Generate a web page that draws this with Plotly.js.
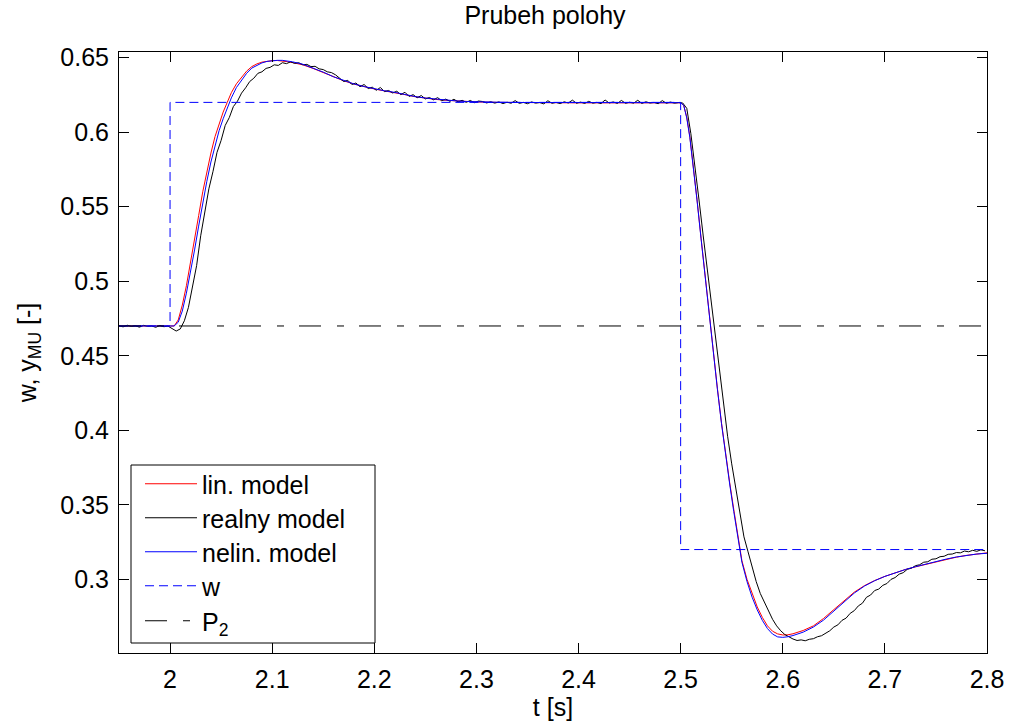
<!DOCTYPE html>
<html>
<head>
<meta charset="utf-8">
<script src="https://cdn.plot.ly/plotly-3.0.1.min.js"></script>
<style>html,body{margin:0;padding:0;background:#fff;}#chart{width:1010px;height:724px;}</style>
</head>
<body>
<div id="chart"></div>
<script>
// ---- data ----
const tLin = [1.950,2.004,2.008,2.012,2.016,2.020,2.024,2.028,2.032,2.036,2.040,2.044,2.048,2.052,2.056,2.060,2.065,2.070,2.075,2.080,2.085,2.090,2.095,2.100,2.105,2.110,2.115,2.120,2.130,2.140,2.150,2.160,2.170,2.180,2.190,2.200,2.210,2.220,2.230,2.240,2.250,2.260,2.270,2.280,2.290,2.300,2.320,2.350,2.400,2.450,2.500,2.503,2.506,2.509,2.512,2.516,2.520,2.524,2.528,2.532,2.536,2.540,2.544,2.548,2.552,2.556,2.560,2.565,2.570,2.575,2.580,2.585,2.590,2.595,2.600,2.605,2.610,2.620,2.630,2.640,2.650,2.660,2.670,2.680,2.690,2.700,2.710,2.720,2.730,2.740,2.750,2.760,2.770,2.780,2.790,2.800];
const yLin = [0.4700,0.4700,0.4740,0.4840,0.4970,0.5120,0.5280,0.5440,0.5600,0.5740,0.5860,0.5970,0.6055,0.6135,0.6200,0.6265,0.6325,0.6370,0.6410,0.6440,0.6458,0.6470,0.6477,0.6480,0.6481,0.6478,0.6473,0.6467,0.6452,0.6428,0.6400,0.6370,0.6345,0.6323,0.6305,0.6290,0.6277,0.6267,0.6252,0.6238,0.6228,0.6220,0.6214,0.6209,0.6205,0.6203,0.6200,0.6198,0.6197,0.6197,0.6197,0.6180,0.6100,0.5970,0.5800,0.5550,0.5290,0.5030,0.4770,0.4520,0.4280,0.4050,0.3840,0.3650,0.3470,0.3300,0.3125,0.3000,0.2900,0.2815,0.2745,0.2688,0.2652,0.2634,0.2627,0.2628,0.2635,0.2657,0.2688,0.2738,0.2797,0.2858,0.2914,0.2958,0.2992,0.3020,0.3045,0.3066,0.3084,0.3101,0.3118,0.3134,0.3149,0.3161,0.3171,0.3178];

const tNelin = [1.950,2.004,2.008,2.012,2.016,2.020,2.024,2.028,2.032,2.036,2.040,2.044,2.048,2.052,2.056,2.060,2.065,2.070,2.075,2.080,2.085,2.090,2.095,2.100,2.105,2.110,2.115,2.120,2.130,2.140,2.150,2.160,2.170,2.180,2.190,2.200,2.210,2.220,2.230,2.240,2.250,2.260,2.270,2.280,2.290,2.300,2.320,2.350,2.400,2.450,2.500,2.503,2.506,2.509,2.512,2.516,2.520,2.524,2.528,2.532,2.536,2.540,2.544,2.548,2.552,2.556,2.560,2.565,2.570,2.575,2.580,2.585,2.590,2.595,2.600,2.605,2.610,2.620,2.630,2.640,2.650,2.660,2.670,2.680,2.690,2.700,2.710,2.720,2.730,2.740,2.750,2.760,2.770,2.780,2.790,2.800];
const yNelin = [0.4700,0.4700,0.4725,0.4800,0.4920,0.5060,0.5210,0.5370,0.5530,0.5670,0.5800,0.5910,0.6010,0.6090,0.6165,0.6230,0.6300,0.6350,0.6395,0.6430,0.6450,0.6465,0.6475,0.6480,0.6482,0.6482,0.6478,0.6472,0.6456,0.6432,0.6403,0.6372,0.6346,0.6324,0.6306,0.6291,0.6278,0.6267,0.6252,0.6239,0.6229,0.6221,0.6215,0.6210,0.6206,0.6204,0.6201,0.6199,0.6198,0.6198,0.6198,0.6180,0.6095,0.5965,0.5795,0.5545,0.5285,0.5025,0.4765,0.4515,0.4275,0.4045,0.3835,0.3640,0.3455,0.3285,0.3115,0.2985,0.2880,0.2795,0.2725,0.2670,0.2633,0.2614,0.2611,0.2615,0.2623,0.2646,0.2680,0.2727,0.2786,0.2850,0.2908,0.2955,0.2991,0.3020,0.3045,0.3066,0.3085,0.3103,0.3120,0.3136,0.3150,0.3162,0.3170,0.3175];

// measured ("realny") response: [t, value]
const realny = [
[1.950,0.4702],[1.954,0.4694],[1.958,0.4705],[1.962,0.4697],[1.966,0.4701],[1.970,0.4692],[1.974,0.4704],[1.978,0.4698],[1.982,0.4700],[1.986,0.4691],[1.990,0.4703],[1.994,0.4695],[1.998,0.4699],
[2.002,0.4685],[2.006,0.4666],[2.010,0.4680],[2.014,0.4735],[2.018,0.4825],[2.022,0.4968],[2.026,0.5105],[2.030,0.5305],[2.034,0.5450],[2.038,0.5620],[2.042,0.5735],[2.046,0.5865],[2.050,0.5945],[2.054,0.6045],[2.058,0.6098],[2.062,0.6172],[2.066,0.6208],[2.070,0.6262],[2.074,0.6298],[2.078,0.6340],[2.082,0.6362],[2.086,0.6395],[2.090,0.6405],[2.094,0.6428],[2.098,0.6435],[2.102,0.6452],[2.106,0.6448],[2.110,0.6466],[2.114,0.6460],[2.118,0.6472],[2.122,0.6462],[2.126,0.6466],[2.130,0.6452],[2.134,0.6455],[2.138,0.6440],[2.142,0.6442],[2.146,0.6425],[2.150,0.6420],[2.154,0.6405],[2.158,0.6400],[2.162,0.6385],
[2.166,0.6362],[2.170,0.6340],[2.174,0.6348],[2.178,0.6320],[2.182,0.6330],[2.186,0.6305],[2.190,0.6320],[2.194,0.6293],[2.198,0.6302],[2.202,0.6281],[2.206,0.6300],[2.210,0.6272],[2.214,0.6280],[2.218,0.6263],[2.222,0.6275],[2.226,0.6252],[2.230,0.6268],[2.234,0.6240],[2.238,0.6252],[2.242,0.6231],[2.246,0.6246],[2.250,0.6223],[2.254,0.6233],[2.258,0.6217],[2.262,0.6232],[2.266,0.6211],[2.270,0.6222],[2.274,0.6207],[2.278,0.6221],[2.282,0.6203],[2.286,0.6214],[2.290,0.6200],[2.294,0.6213],[2.298,0.6198],[2.302,0.6209],
[2.306,0.6206],[2.310,0.6196],[2.314,0.6204],[2.318,0.6195],[2.322,0.6203],[2.326,0.6192],[2.330,0.6201],[2.334,0.6194],[2.338,0.6212],[2.342,0.6193],[2.346,0.6200],[2.350,0.6191],[2.354,0.6203],[2.358,0.6195],[2.362,0.6199],[2.366,0.6190],[2.370,0.6211],[2.374,0.6194],[2.378,0.6200],[2.382,0.6192],[2.386,0.6204],[2.390,0.6196],[2.394,0.6215],[2.398,0.6194],[2.402,0.6202],[2.406,0.6193],[2.410,0.6207],[2.414,0.6195],[2.418,0.6200],[2.422,0.6192],[2.426,0.6216],[2.430,0.6196],[2.434,0.6203],[2.438,0.6193],[2.442,0.6213],[2.446,0.6194],[2.450,0.6201],[2.454,0.6195],[2.458,0.6214],[2.462,0.6193],[2.466,0.6204],[2.470,0.6196],[2.474,0.6200],[2.478,0.6191],[2.482,0.6212],[2.486,0.6194],[2.490,0.6202],[2.494,0.6195],[2.498,0.6199],[2.502,0.6196],
[2.506,0.6160],[2.510,0.5990],[2.514,0.5785],[2.518,0.5545],[2.522,0.5310],[2.526,0.5085],[2.530,0.4840],[2.534,0.4600],[2.538,0.4375],[2.542,0.4160],[2.546,0.3960],[2.550,0.3775],[2.554,0.3610],[2.558,0.3445],[2.562,0.3285],[2.566,0.3185],[2.570,0.3075],[2.574,0.2985],[2.578,0.2905],[2.582,0.2845],[2.586,0.2785],[2.590,0.2732],[2.594,0.2688],[2.598,0.2655],[2.602,0.2630],[2.606,0.2612],[2.610,0.2600],[2.614,0.2590],[2.618,0.2594],[2.622,0.2588],[2.626,0.2598],[2.630,0.2602],[2.634,0.2615],[2.638,0.2622],[2.642,0.2640],[2.646,0.2655],[2.650,0.2680],[2.654,0.2695],[2.658,0.2725],[2.662,0.2740],[2.666,0.2772],[2.670,0.2790],[2.674,0.2822],[2.678,0.2840],[2.682,0.2880],[2.686,0.2895],[2.690,0.2925],[2.694,0.2935],[2.698,0.2960],[2.702,0.2972],[2.706,0.3000],[2.710,0.3012],[2.714,0.3035],[2.718,0.3045],[2.722,0.3068],[2.726,0.3075],[2.730,0.3092],[2.734,0.3098],[2.738,0.3115],[2.742,0.3118],[2.746,0.3135],[2.750,0.3138],[2.754,0.3152],[2.758,0.3155],[2.762,0.3168],[2.766,0.3170],[2.770,0.3180],[2.774,0.3178],[2.778,0.3190],[2.782,0.3185],[2.786,0.3195],[2.790,0.3188],[2.794,0.3198],[2.798,0.3192]
];

const tW = [1.95, 2.0, 2.0, 2.5, 2.5, 2.8];
const yW = [0.47, 0.47, 0.62, 0.62, 0.32, 0.32];
const tP2 = [1.95, 2.8];
const yP2 = [0.47, 0.47];

const xTicks = [2, 2.1, 2.2, 2.3, 2.4, 2.5, 2.6, 2.7, 2.8];
const yTicks = [0.3, 0.35, 0.4, 0.45, 0.5, 0.55, 0.6, 0.65];
const names = ['lin. model', 'realny model', 'nelin. model', 'w', 'P<sub>2</sub>'];

// ---- chart ----
const FONT = 'Liberation Sans, Arial, Helvetica, sans-serif';
const traces = [
  {x: tLin, y: yLin, name: names[0], mode: 'lines', line: {color: '#ff0000', width: 1}, legend: 'legend'},
  {x: realny.map(p => p[0]), y: realny.map(p => p[1]), name: names[1], mode: 'lines', line: {color: '#000000', width: 1}, legend: 'legend2'},
  {x: tNelin, y: yNelin, name: names[2], mode: 'lines', line: {color: '#0000ff', width: 1}, legend: 'legend3'},
  {x: tW, y: yW, name: names[3], mode: 'lines', line: {color: '#0000ff', width: 1, dash: '9px,5px'}, legend: 'legend4'},
  {x: tP2, y: yP2, name: names[4], mode: 'lines', line: {color: '#000000', width: 1, dash: '22px,16px,7px,15px'}, legend: 'legend5'}
];

const axisCommon = {
  showline: true, linecolor: '#000', linewidth: 1, mirror: 'ticks',
  ticks: 'inside', ticklen: 10, tickcolor: '#000', tickwidth: 1,
  showgrid: false, zeroline: false, automargin: false,
  tickfont: {family: FONT, size: 25, color: '#000'}
};

// legend rows (pixel row of each sample line, converted to paper fraction below)
const plotTop = 52, plotH = 601;
const legendRowsPx = [461, 495, 529, 563, 598];
function legendAt(rowPx) {
  return {
    x: 0.0242, y: (plotTop + plotH - rowPx) / plotH, xanchor: 'left', yanchor: 'top',
    bgcolor: 'rgba(0,0,0,0)', borderwidth: 0,
    font: {family: FONT, size: 25, color: '#000'},
    itemwidth: 52, tracegroupgap: 0
  };
}

const layout = {
  width: 1010, height: 724,
  margin: {l: 119, r: 23, t: plotTop, b: 71, pad: 0},
  paper_bgcolor: '#fff', plot_bgcolor: '#fff',
  font: {family: FONT, size: 25, color: '#000'},
  title: {text: 'Prubeh polohy', font: {family: FONT, size: 25, color: '#000'},
          x: 545/1010, xanchor: 'center', y: 1 - 6/724, yanchor: 'top', yref: 'container', xref: 'container'},
  xaxis: Object.assign({}, axisCommon, {
    range: [1.95, 2.8], tickmode: 'array', tickvals: xTicks,
    ticklabelstandoff: 4,
    title: {text: 't [s]', font: {family: FONT, size: 25, color: '#000'}, standoff: 6}
  }),
  yaxis: Object.assign({}, axisCommon, {
    range: [0.2506, 0.6538], tickmode: 'array', tickvals: yTicks,
    ticklabelstandoff: 4,
    title: {text: 'w, y<sub>MU</sub> [-]', font: {family: FONT, size: 25, color: '#000'}, standoff: 16}
  }),
  showlegend: true,
  legend: legendAt(legendRowsPx[0]),
  legend2: legendAt(legendRowsPx[1]),
  legend3: legendAt(legendRowsPx[2]),
  legend4: legendAt(legendRowsPx[3]),
  legend5: legendAt(legendRowsPx[4]),
  shapes: [{
    type: 'rect', xref: 'paper', yref: 'paper',
    x0: 12/868, x1: 256/868, y0: 10/601, y1: 188/601,
    line: {color: '#000', width: 1}, fillcolor: '#fff', layer: 'above'
  }]
};

Plotly.newPlot('chart', traces, layout, {displayModeBar: false, staticPlot: true});
</script>
</body>
</html>
